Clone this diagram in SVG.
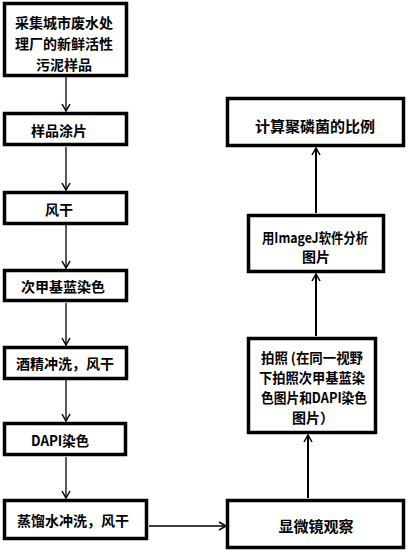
<svg xmlns="http://www.w3.org/2000/svg" width="409" height="553" viewBox="0 0 409 553">
<defs>
<style>
.box{fill:#fff;stroke:#000;stroke-width:3.5}
.t{font-family:"Noto Sans CJK SC","Noto Sans",sans-serif;font-weight:bold;font-size:14px;fill:#000;text-anchor:middle;dominant-baseline:central}
.c{fill:none;stroke:#000;stroke-width:1.3}
</style>
<marker id="ah" markerWidth="10" markerHeight="10" refX="8" refY="5" orient="auto" markerUnits="userSpaceOnUse">
<path d="M1,1 L8,5 L1,9" fill="none" stroke="#000" stroke-width="1.5"/>
</marker>
</defs>
<g id="connectors">
<line class="c" x1="66" y1="77" x2="66" y2="111" marker-end="url(#ah)"/>
<line class="c" x1="66" y1="147" x2="66" y2="190" marker-end="url(#ah)"/>
<line class="c" x1="66" y1="225" x2="66" y2="268" marker-end="url(#ah)"/>
<line class="c" x1="66" y1="303" x2="66" y2="345" marker-end="url(#ah)"/>
<line class="c" x1="66" y1="380" x2="66" y2="421" marker-end="url(#ah)"/>
<line class="c" x1="66" y1="457" x2="66" y2="498" marker-end="url(#ah)"/>
<line class="c" x1="149" y1="526" x2="226" y2="526" marker-end="url(#ah)"/>
<line class="c" x1="308" y1="498" x2="308" y2="435" marker-end="url(#ah)" style="stroke-width:2"/>
<line class="c" x1="316" y1="336" x2="316" y2="274" marker-end="url(#ah)" style="stroke-width:2"/>
<line class="c" x1="316" y1="213" x2="316" y2="148" marker-end="url(#ah)" style="stroke-width:2"/>
</g>
<g id="n1"><rect class="box" x="4.5" y="3.5" width="122" height="72"/>
<text class="t" x="64" y="22">采集城市废水处</text>
<text class="t" x="64" y="43">理厂的新鲜活性</text>
<text class="t" x="64" y="64">污泥样品</text></g>
<g id="n2"><rect class="box" x="4.5" y="113.5" width="122" height="31"/>
<text class="t" x="59" y="130">样品涂片</text></g>
<g id="n3"><rect class="box" x="4.5" y="192.5" width="122" height="31"/>
<text class="t" x="59" y="209">风干</text></g>
<g id="n4"><rect class="box" x="4.5" y="270.5" width="122" height="30"/>
<text class="t" x="63" y="286">次甲基蓝染色</text></g>
<g id="n5"><rect class="box" x="4.5" y="347.5" width="122" height="31"/>
<text class="t" x="65" y="363">酒精冲洗，风干</text></g>
<g id="n6"><rect class="box" x="4.5" y="423.5" width="121" height="31"/>
<text class="t" x="60" y="440" textLength="58" lengthAdjust="spacingAndGlyphs">DAPI染色</text></g>
<g id="n7"><rect class="box" x="4.5" y="500.5" width="142" height="38"/>
<text class="t" x="73" y="520">蒸馏水冲洗，风干</text></g>
<g id="n8"><rect class="box" x="227.5" y="500.5" width="176" height="47"/>
<text class="t" x="316" y="525" style="font-size:15px">显微镜观察</text></g>
<g id="n9"><rect class="box" x="248.5" y="338.5" width="127" height="94"/>
<text class="t" x="312" y="357" textLength="102" lengthAdjust="spacingAndGlyphs">拍照 (在同一视野</text>
<text class="t" x="312" y="377" textLength="106" lengthAdjust="spacingAndGlyphs">下拍照次甲基蓝染</text>
<text class="t" x="314" y="397" textLength="106" lengthAdjust="spacingAndGlyphs">色图片和DAPI染色</text>
<text class="t" x="313" y="417">图片）</text></g>
<g id="n10"><rect class="box" x="248.5" y="215.5" width="135" height="56"/>
<text class="t" x="315" y="237" textLength="106" lengthAdjust="spacingAndGlyphs">用ImageJ软件分析</text>
<text class="t" x="316" y="256">图片</text></g>
<g id="n11"><rect class="box" x="227.5" y="98.5" width="176" height="47"/>
<text class="t" x="315" y="125" style="font-size:15px">计算聚磷菌的比例</text></g>
</svg>
